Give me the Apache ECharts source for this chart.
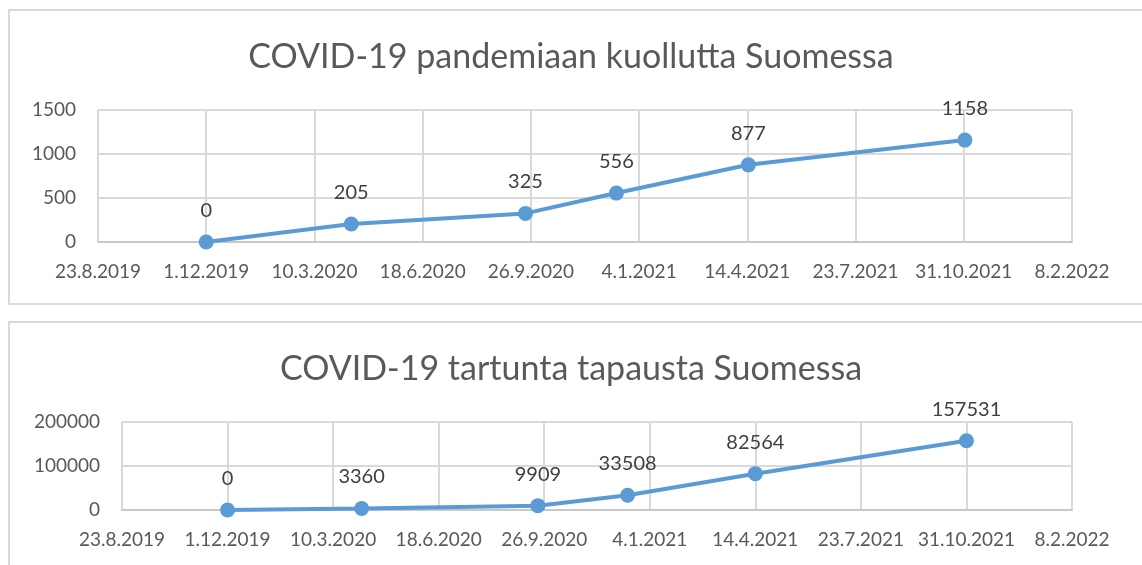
<!DOCTYPE html>
<html>
<head>
<meta charset="utf-8">
<script src="https://cdn.jsdelivr.net/npm/echarts@6/dist/echarts.min.js"></script>
<style>
  html, body { margin: 0; padding: 0; background: #fff; }
  #chart { width: 1142px; height: 565px; }
</style>
</head>
<body>
<div id="chart"></div>
<script>
// data
const axisStart = '2019-08-23';          // first tick of both date axes
const deathDates = ['2019-12-01', '2020-04-13', '2020-09-21', '2020-12-14', '2021-04-15', '2021-11-01'];
const deathValues = [0, 205, 325, 556, 877, 1158];
const caseDates = ['2019-12-01', '2020-04-06', '2020-09-20', '2020-12-14', '2021-04-14', '2021-10-31'];
const caseValues = [0, 3360, 9909, 33508, 82564, 157531];
const titles = ['COVID-19 pandemiaan kuollutta Suomessa', 'COVID-19 tartunta tapausta Suomessa'];

const DAY = 86400000;
const t0 = Date.parse(axisStart + 'T00:00:00Z');
// x is days counted from axisStart, so the 100-day ticks start at 0
function dayOf(s) { return Math.round((Date.parse(s + 'T00:00:00Z') - t0) / DAY); }
function dateLabel(d) {
  const dt = new Date(t0 + d * DAY);
  return dt.getUTCDate() + '.' + (dt.getUTCMonth() + 1) + '.' + dt.getUTCFullYear();
}

const font = 'Lato';
const grey = '#595959';
const gridColor = '#d9d9d9';

function xAxisFor(i) {
  return {
    type: 'value', gridIndex: i, min: 0, max: 900, interval: 100,
    axisLine: { show: true, onZero: false, lineStyle: { color: '#c8c8c8', width: 2 } },
    axisTick: { show: false },
    splitLine: { show: true, lineStyle: { color: gridColor, width: 2 } },
    axisLabel: { color: grey, fontSize: 19, fontFamily: font, margin: 20, formatter: dateLabel }
  };
}
function yAxisFor(i, max, step) {
  return {
    type: 'value', gridIndex: i, min: 0, max: max, interval: step,
    axisLine: { show: false }, axisTick: { show: false },
    splitLine: { show: true, lineStyle: { color: gridColor, width: 2 } },
    axisLabel: { color: grey, fontSize: 19, fontFamily: font, margin: 22, formatter: v => String(v) }
  };
}
function lineFor(i, dates, values) {
  return {
    type: 'line', xAxisIndex: i, yAxisIndex: i,
    data: dates.map((d, k) => [dayOf(d), values[k]]),
    symbol: 'circle', symbolSize: 15,
    lineStyle: { color: '#5b9bd5', width: 4 },
    itemStyle: { color: '#5b9bd5' },
    label: { show: true, position: 'top', distance: 14, color: '#404040', fontSize: 20, fontFamily: font,
             formatter: p => p.value[1] },
    animation: false
  };
}

const chart = echarts.init(document.getElementById('chart'));
chart.setOption({
  animation: false,
  graphic: [
    { type: 'rect', z: -1, shape: { x: 9, y: 10, width: 1200, height: 294 },
      style: { fill: 'none', stroke: gridColor, lineWidth: 2 } },
    { type: 'rect', z: -1, shape: { x: 9, y: 322, width: 1200, height: 300 },
      style: { fill: 'none', stroke: gridColor, lineWidth: 2 } }
  ],
  title: [
    { text: titles[0], left: 'center', top: 35,
      textStyle: { color: grey, fontSize: 34, fontWeight: 'normal', fontFamily: font } },
    { text: titles[1], left: 'center', top: 347,
      textStyle: { color: grey, fontSize: 34, fontWeight: 'normal', fontFamily: font } }
  ],
  grid: [
    { left: 98, right: 70, top: 110, height: 132 },
    { left: 122, right: 70, top: 422, height: 88 }
  ],
  xAxis: [xAxisFor(0), xAxisFor(1)],
  yAxis: [yAxisFor(0, 1500, 500), yAxisFor(1, 200000, 100000)],
  series: [lineFor(0, deathDates, deathValues), lineFor(1, caseDates, caseValues)]
});
</script>
</body>
</html>
